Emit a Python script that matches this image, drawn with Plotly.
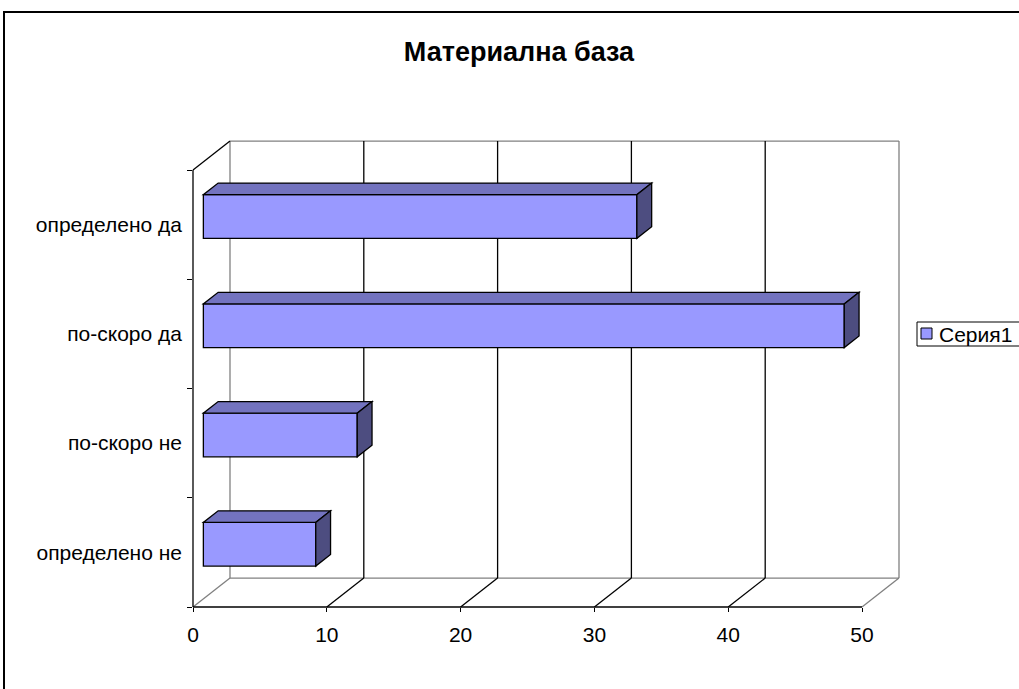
import plotly.graph_objects as go

# ---- data ----
categories = ["определено да", "по-скоро да", "по-скоро не", "определено не"]
values = [32.4, 47.9, 11.5, 8.4]
series_name = "Серия1"
x_ticks = [0, 10, 20, 30, 40, 50]
title_text = "Материална база"

# ---- geometry (pixels of the page) ----
W, H = 1019, 689
ox, oy = 193, 607          # front origin (value 0, bottom of category axis)
sx = (862 - 193) / 50.0    # px per value unit
sy = (607 - 170) / 4.0     # px per category band
DX, DY = 2.765, 0.265      # depth of the 3D box, in data units
f_d, b_d = 0.28, 0.68      # bar front / back depth fraction
half_h = 0.2               # half bar height (category units)
XMAX, NCAT = 50, len(categories)
pad = 6                    # px padding around geometry axes
FILL, TOPC, SIDEC = "#9999FF", "#7373BF", "#4D4D80"

def px_x(p):
    return p / W

def px_y(p):
    return 1 - p / H

fig = go.Figure()

centers = [(NCAT - 1 - i) + 0.5 for i in range(NCAT)]

# bar front faces through plotly's bar trace
fig.add_trace(go.Bar(
    x=values,
    y=[c + f_d * DY for c in centers],
    base=[f_d * DX] * NCAT,
    orientation="h",
    width=2 * half_h,
    name=series_name,
    marker=dict(color=FILL, line=dict(color="#000000", width=1.3)),
    hoverinfo="skip",
    showlegend=False,
    xaxis="x", yaxis="y",
))
# carrier for the front axes
fig.add_trace(go.Scatter(x=[0], y=[0], xaxis="x2", yaxis="y2", mode="markers",
                         marker=dict(opacity=0), showlegend=False, hoverinfo="skip"))

shapes = []
GRAY = "#808080"

def line(x0, y0, x1, y1, color, width=1, layer="below"):
    shapes.append(dict(type="line", xref="x", yref="y", x0=x0, y0=y0, x1=x1, y1=y1,
                       line=dict(color=color, width=width), layer=layer))

# back wall + floor
line(DX, DY, XMAX + DX, DY, GRAY, 1.3)
line(DX, NCAT + DY, XMAX + DX, NCAT + DY, GRAY, 1.3)
for t in x_ticks:
    c = GRAY if t in (x_ticks[0], x_ticks[-1]) else "#000000"
    line(t + DX, DY, t + DX, NCAT + DY, c, 1.3)
    line(t, 0, t + DX, DY, c, 1.3)
line(0, NCAT, DX, NCAT + DY, "#000000", 1.3)
# front axes
line(0, 0, XMAX, 0, "#000000", 1.3, layer="above")
line(0, 0, 0, NCAT, "#000000", 1.3, layer="above")

# bar top and side faces
for v, c in zip(values, centers):
    yb = c - half_h
    yt = c + half_h
    xf = f_d * DX
    xb = b_d * DX
    yfo = f_d * DY
    ybo = b_d * DY
    top = (f"M {xf},{yt + yfo} L {v + xf},{yt + yfo} L {v + xb},{yt + ybo} "
           f"L {xb},{yt + ybo} Z")
    side = (f"M {v + xf},{yb + yfo} L {v + xf},{yt + yfo} L {v + xb},{yt + ybo} "
            f"L {v + xb},{yb + ybo} Z")
    shapes.append(dict(type="path", xref="x", yref="y", path=top, fillcolor=TOPC,
                       line=dict(color="#000000", width=1.3), layer="above"))
    shapes.append(dict(type="path", xref="x", yref="y", path=side, fillcolor=SIDEC,
                       line=dict(color="#000000", width=1.3), layer="above"))

# outer chart frame
shapes.append(dict(type="rect", xref="paper", yref="paper",
                   x0=px_x(4), y0=px_y(12), x1=1.02, y1=-0.02,
                   line=dict(color="#000000", width=2), fillcolor="rgba(0,0,0,0)", layer="below"))

# legend box (Excel style)
shapes.append(dict(type="rect", xref="paper", yref="paper",
                   x0=px_x(917), y0=px_y(322), x1=px_x(1030), y1=px_y(346),
                   line=dict(color="#000000", width=1), fillcolor="#FFFFFF", layer="above"))
shapes.append(dict(type="rect", xref="paper", yref="paper",
                   x0=px_x(921), y0=px_y(328), x1=px_x(932), y1=px_y(339),
                   line=dict(color="#000000", width=1), fillcolor=FILL, layer="above"))

FONT = "Liberation Sans, Arial, sans-serif"
LBL = 21

annotations = [dict(text=series_name, xref="paper", yref="paper", x=px_x(937), y=px_y(334),
                    xanchor="left", yanchor="middle", showarrow=False,
                    font=dict(family=FONT, size=LBL, color="#000000"))]

fig.update_layout(
    width=W, height=H,
    margin=dict(l=0, r=0, t=0, b=0, autoexpand=False),
    paper_bgcolor="#FFFFFF",
    plot_bgcolor="rgba(0,0,0,0)",
    font=dict(family=FONT, size=LBL, color="#000000"),
    title=dict(text=title_text, x=px_x(519), y=px_y(52), xanchor="center", yanchor="middle",
               font=dict(family=FONT, size=27, color="#000000", weight="bold")),
    shapes=shapes,
    annotations=annotations,
    showlegend=False,
    # geometry axes (invisible)
    xaxis=dict(domain=[px_x(ox - pad), px_x(ox + (XMAX + DX) * sx + pad)],
               range=[-pad / sx, XMAX + DX + pad / sx],
               visible=False, fixedrange=True),
    yaxis=dict(domain=[px_y(oy + pad), px_y(oy - (NCAT + DY) * sy - pad)],
               range=[-pad / sy, NCAT + DY + pad / sy],
               visible=False, fixedrange=True),
    # front axes: ticks and labels
    xaxis2=dict(domain=[px_x(ox), px_x(ox + XMAX * sx)], range=[0, XMAX], anchor="y2",
                tickvals=x_ticks, ticks="outside", ticklen=4, tickcolor="#000000",
                showgrid=False, zeroline=False, showline=False, fixedrange=True,
                ticklabelstandoff=5, tickfont=dict(family=FONT, size=LBL)),
    yaxis2=dict(domain=[px_y(oy), px_y(oy - NCAT * sy)], range=[0, NCAT], anchor="x2",
                tickvals=centers, ticktext=categories, ticks="",
                minor=dict(tickvals=list(range(NCAT + 1)), ticks="outside", ticklen=5,
                           tickcolor="#000000"),
                showgrid=False, zeroline=False, showline=False, fixedrange=True,
                ticklabelstandoff=10, tickfont=dict(family=FONT, size=LBL)),
)

fig.write_html("out.html", config={"displayModeBar": False},
               post_script="document.body.style.margin='0';")
